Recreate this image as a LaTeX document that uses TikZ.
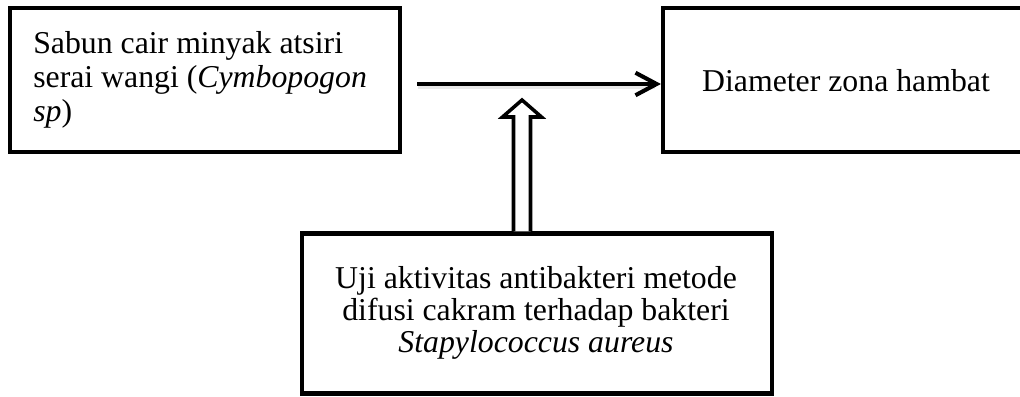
\documentclass[tikz,border=0pt]{standalone}
\usepackage{fontspec}
\setmainfont{Liberation Serif}
\usetikzlibrary{arrows.meta,calc}
\begin{document}
\begin{tikzpicture}[x=0.025cm,y=-0.025cm,
  box/.style={draw=black,line width=2.9pt,rectangle,inner sep=0pt},
  txt/.style={inner sep=0pt,font=\fontsize{22.6}{24.5}\selectfont},
  flow/.style={line width=2.9pt,-{Straight Barb[length=15pt,width=16pt,line width=2.9pt]}},
  dbl/.style={draw=black,line width=2.5pt,line join=miter,fill=white}]
\useasboundingbox (0,0) rectangle (1020,396);
\node[box,minimum width=9.75cm,minimum height=3.6cm] (b1) at (205,80) {};
\node[box,minimum width=9.25cm,minimum height=3.6cm] (b2) at (848,80) {};
\node[box,minimum width=11.75cm,minimum height=4cm] (b3) at (537,313.5) {};
\node[txt,anchor=base west] (t1) at (33,53)
  {\parbox[t]{8.6cm}{\raggedright Sabun cair minyak atsiri\\serai wangi (\textit{Cymbopogon}\\\textit{sp})}};
\node[txt,anchor=base] (t2) at (846,91) {Diameter zona hambat};
\node[txt,anchor=base] (t3) at (536,288)
  {\parbox[t]{11cm}{\fontsize{22.6}{23.1}\selectfont\centering Uji aktivitas antibakteri metode\\difusi cakram terhadap bakteri\\\textit{Stapylococcus aureus}}};
\coordinate (s) at (417,84);
\coordinate (tip) at (522,100);
% soft shadow of main arrow
\draw[gray!18,line width=3.5pt] ([shift={(1,3)}]s) -- ([shift={(-6,3)}]b2.west |- s);
\draw[flow] (s) -- (b2.west |- s);
% double arrow from b3 to main arrow
\draw[dbl] ($(b3.north -| tip)+(-8.5,0)$) -- ($(tip)+(-8.5,17)$) -- ($(tip)+(-19.5,17)$)
  -- (tip) -- ($(tip)+(19.5,17)$) -- ($(tip)+(8.5,17)$) -- ($(b3.north -| tip)+(8.5,0)$);
\end{tikzpicture}
\end{document}
